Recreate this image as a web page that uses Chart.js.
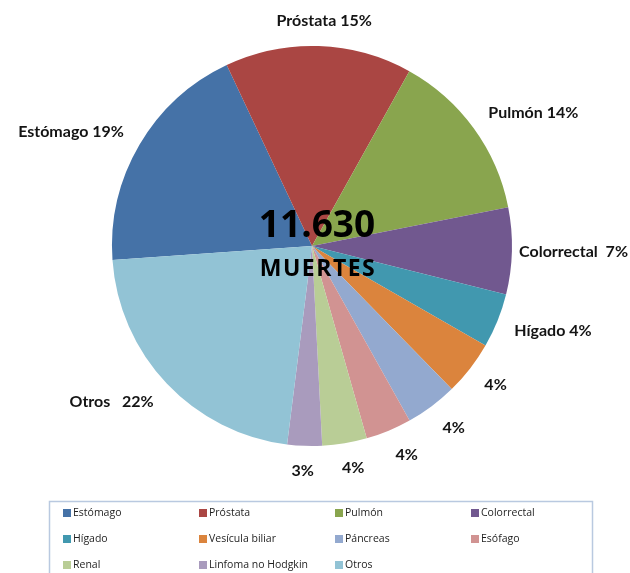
<!DOCTYPE html>
<html>
<head>
<meta charset="utf-8">
<script src="https://cdn.jsdelivr.net/npm/chart.js@4/dist/chart.umd.min.js"></script>
<style>
  html, body { margin: 0; padding: 0; background: #ffffff; }
  #wrap { width: 630px; height: 573px; position: relative; }
</style>
</head>
<body>
<div id="wrap"><canvas id="c" width="630" height="573"></canvas></div>
<script>
// ---- data ----
const categories = ['Estómago', 'Próstata', 'Pulmón', 'Colorrectal', 'Hígado', 'Vesícula biliar', 'Páncreas', 'Esófago', 'Renal', 'Linfoma no Hodgkin', 'Otros'];
const shares = [19.1, 15.1, 13.8, 7.0, 4.4, 4.4, 4.2, 3.7, 3.6, 2.8, 21.9];
const percentLabels = ['19%', '15%', '14%', '7%', '4%', '4%', '4%', '4%', '4%', '3%', '22%'];
const labelNames = ['Estómago', 'Próstata', 'Pulmón', 'Colorrectal', 'Hígado', '', '', '', '', '', 'Otros'];
const labelGaps = [' ', ' ', ' ', '  ', ' ', '', '', '', '', '', '   '];
const sliceColors = ['#4572A7', '#AA4643', '#89A54E', '#71588F', '#4198AF', '#DB843D', '#93A9CF', '#D19392', '#B9CD96', '#A99BBD', '#92C3D5'];
const totalDeaths = '11.630';
const centerCaption = 'MUERTES';

const LABEL_FONT = 'bold 16px Lato';

const sliceLabels = {
  id: 'sliceLabels',
  afterDatasetsDraw(chart) {
    const ctx = chart.ctx;
    const meta = chart.getDatasetMeta(0);
    ctx.save();
    ctx.font = LABEL_FONT;
    ctx.fillStyle = '#141414';
    ctx.textAlign = 'center';
    ctx.textBaseline = 'middle';
    meta.data.forEach((arc, i) => {
      const mid = (arc.startAngle + arc.endAngle) / 2;
      const ux = Math.cos(mid), uy = Math.sin(mid);
      const r = arc.outerRadius + 18;
      const px = arc.x + ux * r, py = arc.y + uy * r;
      const text = labelNames[i] ? labelNames[i] + labelGaps[i] + percentLabels[i] : percentLabels[i];
      const w = ctx.measureText(text).width;
      const h = 14;
      const fx = Math.max(-1, Math.min(1, ux * 3));
      const fy = Math.max(-1, Math.min(1, uy * 1.2));
      let tx = px + fx * w / 2;
      const maxRight = chart.width - 2;
      if (tx + w / 2 > maxRight) tx = maxRight - w / 2;
      if (tx - w / 2 < 2) tx = 2 + w / 2;
      ctx.fillText(text, tx, py + fy * h / 2);
    });
    // centre text
    const a0 = meta.data[0];
    const cx = a0.x + 5, cy = a0.y;
    ctx.fillStyle = '#000000';
    ctx.font = 'bold 37px "Open Sans"';
    ctx.fillText(totalDeaths, cx, cy - 20);
    ctx.font = 'bold 23px "Open Sans"';
    try { ctx.letterSpacing = '1.5px'; } catch (e) {}
    ctx.fillText(centerCaption, cx + 1, cy + 23);
    try { ctx.letterSpacing = '0px'; } catch (e) {}
    ctx.restore();
  }
};

const boxLegend = {
  id: 'boxLegend',
  afterDraw(chart) {
    const ctx = chart.ctx;
    ctx.save();
    ctx.strokeStyle = '#B9C9E0';
    ctx.lineWidth = 1.5;
    ctx.strokeRect(49.5, 501.5, 543, 100);
    ctx.font = '10.5px "Open Sans"';
    ctx.textAlign = 'left';
    ctx.textBaseline = 'middle';
    categories.forEach((name, i) => {
      const col = i % 4, row = Math.floor(i / 4);
      const x = 63 + col * 136;
      const y = 513 + row * 26;
      ctx.fillStyle = sliceColors[i];
      ctx.fillRect(x, y - 4, 8, 8);
      ctx.fillStyle = '#1e1e1e';
      ctx.fillText(name, x + 10, y);
    });
    ctx.restore();
  }
};

new Chart(document.getElementById('c'), {
  type: 'pie',
  data: {
    labels: categories,
    datasets: [{
      data: shares,
      backgroundColor: sliceColors,
      borderWidth: 0,
      hoverOffset: 0,
      offset: 0
    }]
  },
  options: {
    responsive: false,
    devicePixelRatio: 1,
    animation: false,
    rotation: 266,
    layout: { padding: { left: 112, top: 46, right: 118, bottom: 127 } },
    plugins: {
      legend: { display: false },
      title: { display: false },
      tooltip: { enabled: false }
    }
  },
  plugins: [sliceLabels, boxLegend]
});
</script>
</body>
</html>
